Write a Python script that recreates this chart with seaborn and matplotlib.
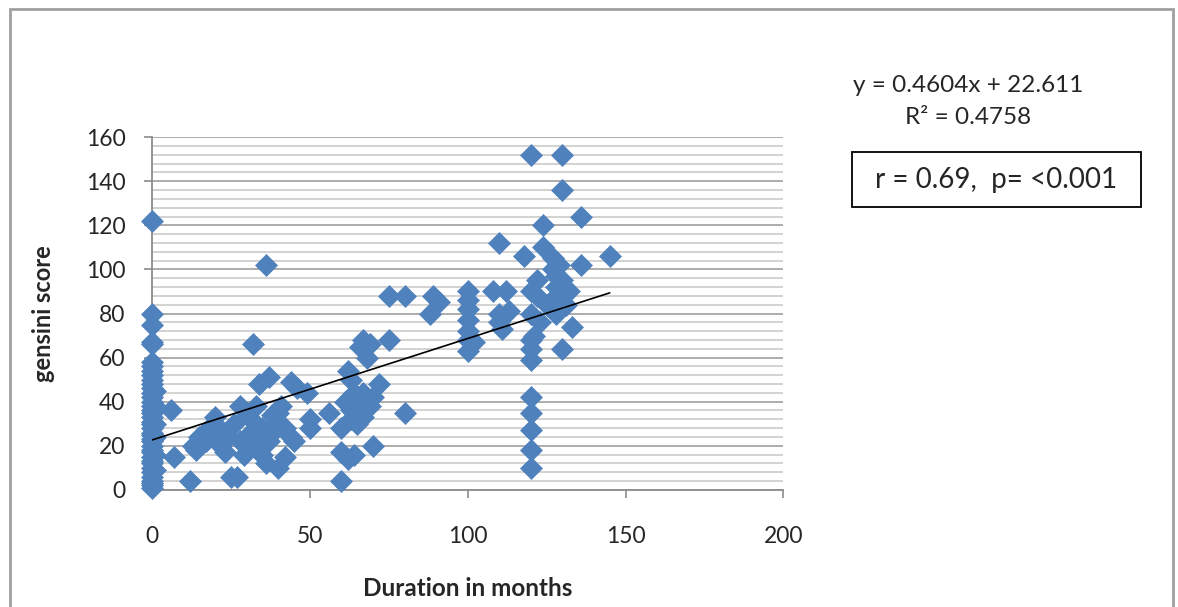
import matplotlib
matplotlib.use("Agg")
import matplotlib.pyplot as plt
import seaborn as sns
import pandas as pd
from matplotlib.patches import Rectangle
from matplotlib.ticker import MultipleLocator

# duration (months) and gensini score
duration = [0, 0, 0, 0, 0, 0, 0, 0, 0, 0, 0, 0, 0, 0, 0, 0, 0, 0, 0, 0,
            0, 0, 0, 0, 0, 0, 0, 0, 0, 0, 0, 0, 0, 0, 0, 0, 0, 0, 0,
            1, 1, 1, 1, 1, 1,
            6, 7, 12, 13, 14, 15, 17, 18, 20, 21, 22, 22, 23, 24, 25, 27, 26, 28, 28, 29,
            30, 31, 32, 32, 33, 33, 34, 34, 35, 35, 36, 36, 37, 37, 38, 38, 39, 40, 40, 41,
            42, 42, 44, 44, 45, 46, 49, 50, 50, 56, 60, 60, 60, 61, 62, 62, 63, 63, 63, 64,
            64, 65, 65, 66, 66, 67, 67, 67, 68, 68, 69, 69, 70, 70, 72, 75, 75, 80, 80, 88,
            89, 91,
            100, 100, 100, 100, 100, 100, 100, 102, 108, 110, 110, 110, 111, 112, 113, 118,
            120, 120, 120, 120, 120, 120, 120, 120, 120, 120, 120, 121, 122, 122, 123, 124,
            124, 125, 127, 127, 128, 128, 128, 128, 129, 130, 130, 130, 130, 130, 131, 132,
            133, 136, 136, 145]
gensini = [122, 80, 75, 67, 66, 58, 56, 54, 52, 50, 48, 46, 44, 42, 40, 38, 36, 35, 33, 31,
           30, 28, 26, 25, 23, 22, 20, 18, 17, 15, 13, 12, 10, 8, 6, 4, 3, 2, 1,
           45, 38, 30, 24, 16, 9,
           36, 15, 4, 20, 18, 24, 22, 28, 33, 25, 20, 27, 17, 24, 6, 6, 30, 38, 22, 16,
           34, 26, 66, 20, 30, 38, 48, 24, 16, 28, 102, 12, 51, 22, 34, 26, 30, 35, 10, 38,
           15, 28, 49, 24, 22, 46, 44, 32, 28, 35, 4, 17, 28, 40, 54, 14, 50, 36, 32, 44,
           16, 40, 30, 65, 36, 68, 44, 33, 60, 40, 66, 38, 20, 42, 48, 68, 88, 88, 35, 80,
           88, 85,
           90, 86, 82, 77, 72, 68, 63, 67, 90, 112, 80, 76, 73, 90, 81, 106,
           152, 90, 80, 68, 64, 59, 42, 35, 27, 18, 10, 70, 95, 88, 76, 120,
           110, 84, 105, 100, 97, 92, 88, 80, 102, 152, 136, 95, 90, 64, 84, 90,
           74, 124, 102, 106]

slope = 0.4604
intercept = 22.611
eq_text = "y = 0.4604x + 22.611"
r2_text = "R² = 0.4758"
stat_text = "r = 0.69,  p= <0.001"

df = pd.DataFrame({"duration": duration, "gensini": gensini})

sns.set_style("white")
plt.rcParams["font.family"] = ["Lato", "DejaVu Sans"]

W, H = 1178, 607
fig = plt.figure(figsize=(W / 100, H / 100), dpi=100)
ax = fig.add_axes([0.129, 0.193, 0.536, 0.581])

# gridlines: major every 20, minor every 4
ax.yaxis.set_major_locator(MultipleLocator(20))
ax.yaxis.set_minor_locator(MultipleLocator(4))
ax.xaxis.set_major_locator(MultipleLocator(50))
ax.grid(axis="y", which="minor", color="#cfcfcf", linewidth=1.3)
ax.grid(axis="y", which="major", color="#a6a6a6", linewidth=1.3)
ax.set_axisbelow(True)

sns.scatterplot(data=df, x="duration", y="gensini", marker="D", s=125,
                color="#4f81bd", edgecolor="#4f81bd", linewidth=0.5, ax=ax, zorder=3)
ax.collections[-1].set_clip_on(False)

# trend line from the reported fit
x0, x1 = min(duration), max(duration)
ax.plot([x0, x1], [slope * x0 + intercept, slope * x1 + intercept],
        color="black", linewidth=1.2, zorder=4)

ax.set_xlim(0, 200)
ax.set_ylim(0, 160)
for side in ["top", "right"]:
    ax.spines[side].set_visible(False)
for side in ["left", "bottom"]:
    ax.spines[side].set_color("#8c8c8c")
    ax.spines[side].set_linewidth(1.3)

ax.tick_params(axis="both", which="major", direction="out", length=6, width=1.2,
               color="#8c8c8c", labelsize=16.5, left=True, bottom=True)
ax.tick_params(axis="x", pad=20)
ax.tick_params(axis="y", pad=13)
ax.tick_params(axis="y", which="minor", left=False)
ax.set_xlabel("Duration in months", fontsize=17.5, fontweight="bold")
ax.set_ylabel("gensini score", fontsize=17, fontweight="bold")
ax.xaxis.set_label_coords(0.5, -0.246)
ax.yaxis.set_label_coords(-0.154, 0.5)

fig.text(968 / W, 1 - 86 / H, eq_text, ha="center", va="center", fontsize=17.5)
fig.text(968 / W, 1 - 117 / H, r2_text, ha="center", va="center", fontsize=17.5)

# boxed correlation note
fig.patches.append(Rectangle((852 / W, 1 - 207 / H), 289 / W, 55 / H,
                             transform=fig.transFigure, facecolor="white",
                             edgecolor="black", linewidth=1.3))
fig.text(996 / W, 1 - 180 / H, stat_text, ha="center", va="center", fontsize=20)

# outer chart frame
fig.patches.append(Rectangle((10 / W, -0.05), 1163 / W, 1.05 - 9 / H,
                             transform=fig.transFigure, fill=False,
                             edgecolor="#a0a0a0", linewidth=2.0))

fig.savefig("out.png", dpi=100)
plt.close(fig)
